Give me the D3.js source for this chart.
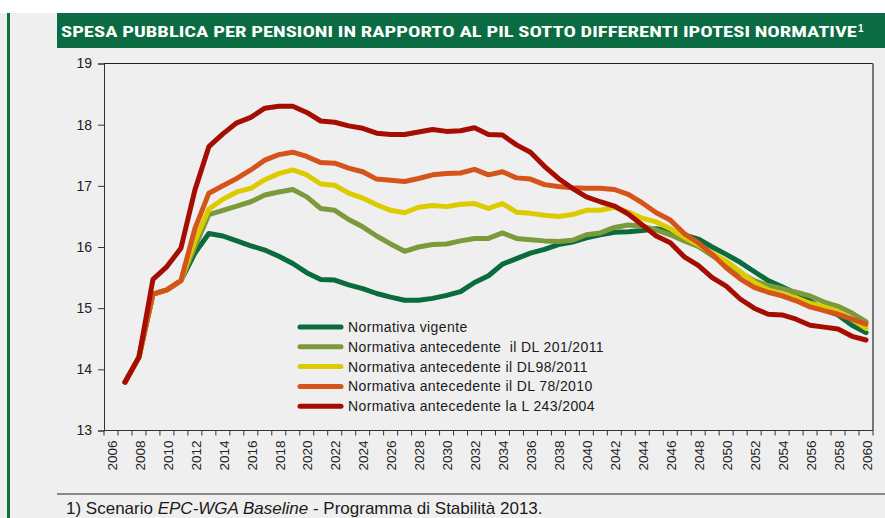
<!DOCTYPE html>
<html>
<head>
<meta charset="utf-8">
<script src="https://cdn.jsdelivr.net/npm/d3@7"></script>
<style>
  html, body { margin: 0; padding: 0; background: #ffffff; }
  svg { display: block; }
</style>
</head>
<body>
<div id="chart"></div>
<script>
// categories (years)
var years = [2006, 2007, 2008, 2009, 2010, 2011, 2012, 2013, 2014, 2015,
  2016, 2017, 2018, 2019, 2020, 2021, 2022, 2023, 2024, 2025,
  2026, 2027, 2028, 2029, 2030, 2031, 2032, 2033, 2034, 2035,
  2036, 2037, 2038, 2039, 2040, 2041, 2042, 2043, 2044, 2045,
  2046, 2047, 2048, 2049, 2050, 2051, 2052, 2053, 2054, 2055,
  2056, 2057, 2058, 2059, 2060];

var yearLabels = ["2006", "2008", "2010", "2012", "2014", "2016", "2018", "2020",
  "2022", "2024", "2026", "2028", "2030", "2032", "2034", "2036", "2038", "2040",
  "2042", "2044", "2046", "2048", "2050", "2052", "2054", "2056", "2058", "2060"];

var yTicks = [13, 14, 15, 16, 17, 18, 19];

var seriesNames = [
  "Normativa vigente",
  "Normativa antecedente  il DL 201/2011",
  "Normativa antecedente il DL98/2011",
  "Normativa antecedente il DL 78/2010",
  "Normativa antecedente la L 243/2004"
];

var vigente = [null, 13.79, 14.2, 15.23, 15.3, 15.45, 15.9, 16.22, 16.18, 16.1,
  16.02, 15.95, 15.85, 15.73, 15.58, 15.47, 15.46, 15.38, 15.32, 15.24,
  15.18, 15.13, 15.13, 15.16, 15.21, 15.27, 15.42, 15.53, 15.72, 15.81,
  15.9, 15.96, 16.04, 16.08, 16.15, 16.2, 16.24, 16.25, 16.27, 16.3,
  16.26, 16.2, 16.13, 16.0, 15.88, 15.75, 15.6, 15.45, 15.35, 15.24,
  15.12, 14.97, 14.89, 14.72, 14.6];

var dl201 = [null, 13.79, 14.2, 15.23, 15.3, 15.45, 16.0, 16.53, 16.6, 16.67,
  16.74, 16.85, 16.9, 16.94, 16.82, 16.63, 16.6, 16.45, 16.33, 16.18,
  16.05, 15.93, 16.0, 16.04, 16.05, 16.1, 16.14, 16.14, 16.23, 16.14,
  16.12, 16.1, 16.09, 16.11, 16.2, 16.23, 16.32, 16.36, 16.34, 16.28,
  16.2, 16.1, 16.01, 15.86, 15.72, 15.58, 15.45, 15.37, 15.32, 15.26,
  15.2, 15.1, 15.03, 14.92, 14.78];

var dl98 = [null, 13.79, 14.2, 15.23, 15.3, 15.45, 16.1, 16.62, 16.78, 16.9,
  16.96, 17.1, 17.2, 17.26, 17.18, 17.03, 17.01, 16.88, 16.8, 16.69,
  16.6, 16.56, 16.65, 16.68, 16.66, 16.7, 16.71, 16.63, 16.71, 16.57,
  16.55, 16.52, 16.5, 16.53, 16.6, 16.6, 16.65, 16.57, 16.47, 16.41,
  16.3, 16.16, 16.04, 15.9, 15.77, 15.6, 15.42, 15.3, 15.23, 15.17,
  15.08, 15.02, 14.94, 14.82, 14.67];

var dl78 = [null, 13.79, 14.2, 15.23, 15.3, 15.45, 16.3, 16.88, 17.0, 17.12,
  17.26, 17.42, 17.51, 17.55, 17.48, 17.38, 17.37, 17.29, 17.23, 17.11,
  17.09, 17.07, 17.12, 17.18, 17.2, 17.21, 17.27, 17.18, 17.23, 17.13,
  17.11, 17.02, 16.99, 16.97, 16.96, 16.96, 16.94, 16.86, 16.72, 16.56,
  16.44, 16.22, 16.07, 15.88, 15.66, 15.48, 15.34, 15.26, 15.2, 15.12,
  15.02, 14.96, 14.9, 14.82, 14.74];

var l243 = [null, 13.79, 14.2, 15.47, 15.68, 15.98, 16.93, 17.64, 17.85, 18.03,
  18.12, 18.27, 18.3, 18.3, 18.2, 18.06, 18.04, 17.98, 17.94, 17.86,
  17.84, 17.84, 17.88, 17.92, 17.89, 17.9, 17.95, 17.84, 17.83, 17.67,
  17.55, 17.32, 17.12, 16.96, 16.82, 16.74, 16.67, 16.54, 16.36, 16.18,
  16.07, 15.84, 15.7, 15.5, 15.36, 15.15, 15.0, 14.9, 14.89, 14.82,
  14.72, 14.69, 14.66, 14.54, 14.48];

var seriesColors = ["#0a6b3c", "#7b9a3c", "#dccb00", "#d4541a", "#a50d02"];

function drawChart() {
  var W = 885, H = 518;
  var plot = { left: 104, right: 873, top: 63.5, bottom: 430.5 };

  var svg = d3.select("#chart").append("svg")
      .attr("width", W)
      .attr("height", H);

  // page background
  svg.append("rect").attr("x", 0).attr("y", 0).attr("width", W).attr("height", H).attr("fill", "#ffffff");
  svg.append("rect").attr("x", 0).attr("y", 13).attr("width", W).attr("height", H - 13).attr("fill", "#efefef");
  svg.append("rect").attr("x", 7).attr("y", 13).attr("width", 3).attr("height", H - 13).attr("fill", "#0b7143");

  // title bar
  svg.append("rect").attr("x", 57).attr("y", 13).attr("width", W - 57).attr("height", 35).attr("fill", "#0b6b42");
  svg.append("text")
      .attr("x", 61).attr("y", 36.5)
      .attr("fill", "#ffffff")
      .attr("textLength", 796)
      .attr("lengthAdjust", "spacingAndGlyphs")
      .style("font-family", "'Liberation Sans Narrow', 'Roboto Condensed', 'Liberation Sans', sans-serif")
      .style("font-weight", "bold")
      .style("font-size", "15.5px")
      .text("SPESA PUBBLICA PER PENSIONI IN RAPPORTO AL PIL SOTTO DIFFERENTI IPOTESI NORMATIVE");
  svg.append("text")
      .attr("x", 858).attr("y", 32)
      .attr("fill", "#ffffff")
      .style("font-family", "'Liberation Sans Narrow', 'Liberation Sans', sans-serif")
      .style("font-weight", "bold")
      .style("font-size", "10px")
      .text("1");

  var x = d3.scaleBand().domain(years).range([plot.left, plot.right]);
  var y = d3.scaleLinear().domain([13, 19]).range([plot.bottom, plot.top]);

  // y axis
  var yAxis = svg.append("g")
      .attr("transform", "translate(" + plot.left + ",0)")
      .call(d3.axisLeft(y).tickValues(yTicks).tickSize(6).tickPadding(6).tickFormat(d3.format("d")));
  yAxis.select(".domain").attr("stroke", "#333");
  yAxis.selectAll(".tick line").attr("stroke", "#333");
  yAxis.selectAll("text")
      .attr("fill", "#222")
      .style("font-family", "'Liberation Sans', Arial, sans-serif")
      .style("font-size", "14px");

  // plot frame (top and right)
  svg.append("line").attr("x1", plot.left).attr("x2", plot.right).attr("y1", plot.top).attr("y2", plot.top)
      .attr("stroke", "#222").attr("stroke-width", 1);
  svg.append("line").attr("x1", plot.right).attr("x2", plot.right).attr("y1", plot.top).attr("y2", plot.bottom)
      .attr("stroke", "#777").attr("stroke-width", 2);

  // x axis: ticks at band edges, labels rotated
  var xg = svg.append("g").attr("class", "xaxis");
  xg.append("line").attr("x1", plot.left).attr("x2", plot.right)
      .attr("y1", plot.bottom).attr("y2", plot.bottom).attr("stroke", "#333");
  var edges = years.map(function(d) { return x(d); }).concat([plot.right]);
  xg.selectAll(".xt").data(edges).enter().append("line")
      .attr("class", "xt")
      .attr("x1", function(d) { return d; }).attr("x2", function(d) { return d; })
      .attr("y1", plot.bottom).attr("y2", plot.bottom + 5)
      .attr("stroke", "#333");
  xg.selectAll(".xl").data(yearLabels).enter().append("text")
      .attr("class", "xl")
      .attr("transform", function(d) {
        return "translate(" + (x(+d) + x.bandwidth() / 2 + 1) + "," + (plot.bottom + 10) + ") rotate(-90)";
      })
      .attr("text-anchor", "end")
      .attr("dy", "0.35em")
      .attr("fill", "#222")
      .style("font-family", "'Liberation Sans', Arial, sans-serif")
      .style("font-size", "13.5px")
      .text(function(d) { return d; });

  // series lines
  var allSeries = [vigente, dl201, dl98, dl78, l243];
  var line = d3.line()
      .defined(function(d) { return d != null; })
      .x(function(d, i) { return x(years[i]) + x.bandwidth() / 2; })
      .y(function(d) { return y(d); });

  svg.append("g").selectAll("path").data(allSeries).enter().append("path")
      .attr("d", line)
      .attr("fill", "none")
      .attr("stroke", function(d, i) { return seriesColors[i]; })
      .attr("stroke-width", 5)
      .attr("stroke-linejoin", "round")
      .attr("stroke-linecap", "round");

  // legend
  var lg = svg.append("g").attr("transform", "translate(298,327)");
  var rows = lg.selectAll("g").data(seriesNames).enter().append("g")
      .attr("transform", function(d, i) { return "translate(0," + (i * 19.8) + ")"; });
  rows.append("line")
      .attr("x1", 2).attr("x2", 43).attr("y1", 0).attr("y2", 0)
      .attr("stroke", function(d, i) { return seriesColors[i]; })
      .attr("stroke-width", 5)
      .attr("stroke-linecap", "round");
  rows.append("text")
      .attr("x", 50).attr("y", 0).attr("dy", "0.36em")
      .attr("fill", "#1a1a1a")
      .style("font-family", "'Liberation Sans', Arial, sans-serif")
      .style("font-size", "14px")
      .style("letter-spacing", "0.4px")
      .style("white-space", "pre")
      .attr("xml:space", "preserve")
      .text(function(d) { return d; });

  // footnote
  svg.append("line").attr("x1", 57).attr("x2", W).attr("y1", 494).attr("y2", 494)
      .attr("stroke", "#222").attr("stroke-width", 1);
  var fn = svg.append("text")
      .attr("x", 66).attr("y", 514)
      .attr("fill", "#1a1a1a")
      .style("font-family", "'Liberation Sans', Arial, sans-serif")
      .style("font-size", "17px");
  fn.append("tspan").text("1) Scenario ");
  fn.append("tspan").style("font-style", "italic").text("EPC-WGA Baseline");
  fn.append("tspan").text(" - Programma di Stabilità 2013.");

  return svg;
}

drawChart();
</script>
</body>
</html>
